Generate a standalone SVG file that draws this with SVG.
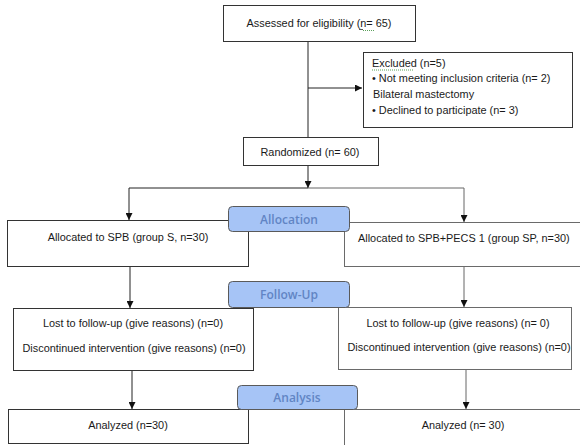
<svg xmlns="http://www.w3.org/2000/svg" width="580" height="445" viewBox="0 0 580 445">
<style>
.box{fill:#fff;stroke:#333;stroke-width:1}
.boxr{fill:#fff;stroke:#6a6a6a;stroke-width:1}
.lbl{fill:#a6c4f6;stroke:#5a5a5a;stroke-width:1}
.t{font-family:"Liberation Sans",Arial,sans-serif;font-size:10.9px;fill:#1a1a1a}
.lt{font-family:"Open Sans","Liberation Sans",sans-serif;font-size:12px;font-weight:600;fill:#6184c4;text-anchor:middle}
.c{stroke:#222;stroke-width:1;fill:none}
.cr{stroke:#666;stroke-width:1;fill:none}
.sp{stroke:#5aa05a;stroke-width:1;stroke-dasharray:1 1;fill:none}
</style>
<defs>
<marker id="ah" viewBox="0 0 8 8" refX="8" refY="4" markerWidth="7" markerHeight="7" markerUnits="userSpaceOnUse" orient="auto">
<path d="M0,0 L8,4 L0,8 z" fill="#111"/>
</marker>
</defs>
<g id="connectors">
<line class="c" x1="308" y1="41" x2="308" y2="137"/>
<line class="c" x1="308" y1="88" x2="362" y2="88" marker-end="url(#ah)"/>
<line class="c" x1="308" y1="166" x2="308" y2="188" marker-end="url(#ah)"/>
<line class="c" x1="129" y1="188" x2="308" y2="188"/>
<line class="cr" x1="308" y1="188" x2="464" y2="188"/>
<line class="c" x1="129" y1="188" x2="129" y2="220" marker-end="url(#ah)"/>
<line class="cr" x1="464" y1="188" x2="464" y2="222" marker-end="url(#ah)"/>
<line class="c" x1="130" y1="267" x2="130" y2="308" marker-end="url(#ah)"/>
<line class="cr" x1="464" y1="266" x2="464" y2="307" marker-end="url(#ah)"/>
<line class="c" x1="132" y1="370" x2="132" y2="409" marker-end="url(#ah)"/>
<line class="cr" x1="466" y1="369" x2="466" y2="409" marker-end="url(#ah)"/>
</g>
<g id="assessed">
<rect class="box" x="223.5" y="5.5" width="192" height="36"/>
<text class="t" x="319" y="27" text-anchor="middle">Assessed for eligibility (n= 65)</text>
<line x1="359" y1="29.5" x2="363" y2="29.5" stroke="#333" stroke-width="0.8"/>
<line class="sp" x1="363" y1="30.5" x2="375" y2="30.5"/>
</g>
<g id="excluded">
<rect class="box" x="363.5" y="52.5" width="209" height="75"/>
<text class="t" x="372" y="67">Excluded  (n=5)</text>
<line class="sp" x1="372" y1="70" x2="414" y2="70"/>
<text class="t" x="372" y="82">•  Not meeting inclusion criteria (n= 2)</text>
<text class="t" x="373" y="98">Bilateral mastectomy</text>
<text class="t" x="372" y="114">•  Declined to participate (n= 3)</text>
</g>
<g id="randomized">
<rect class="box" x="243.5" y="137.5" width="135" height="28"/>
<text class="t" x="310" y="156" text-anchor="middle">Randomized (n= 60)</text>
</g>
<g id="alloc-left">
<rect class="box" x="7.5" y="220.5" width="241" height="46"/>
<text class="t" x="128" y="241" text-anchor="middle">Allocated to SPB (group S, n=30)</text>
</g>
<g id="alloc-right">
<rect class="boxr" x="344.5" y="222.5" width="260" height="44"/>
<text class="t" x="358" y="242">Allocated to SPB+PECS 1 (group SP, n=30)</text>
</g>
<g id="label-allocation">
<rect class="lbl" x="228.5" y="206.5" width="121" height="25" rx="4"/>
<text class="lt" x="289" y="224">Allocation</text>
</g>
<g id="follow-left">
<rect class="box" x="13.5" y="308.5" width="240" height="62"/>
<text class="t" x="133" y="327" text-anchor="middle">Lost to follow-up (give reasons) (n=0)</text>
<text class="t" x="134" y="352" text-anchor="middle">Discontinued intervention (give reasons) (n=0)</text>
</g>
<g id="follow-right">
<rect class="boxr" x="338.5" y="307.5" width="233" height="62"/>
<text class="t" x="458" y="327" text-anchor="middle">Lost to follow-up (give reasons) (n= 0)</text>
<text class="t" x="459" y="351" text-anchor="middle">Discontinued intervention (give reasons) (n=0)</text>
</g>
<g id="label-followup">
<rect class="lbl" x="228.5" y="281.5" width="121" height="26" rx="4"/>
<text class="lt" x="289" y="299">Follow-Up</text>
</g>
<g id="analyzed-left">
<rect class="box" x="8.5" y="409.5" width="240" height="34"/>
<text class="t" x="128" y="429" text-anchor="middle">Analyzed (n=30)</text>
</g>
<g id="analyzed-right">
<rect class="boxr" x="344.5" y="409.5" width="260" height="60"/>
<text class="t" x="463" y="429" text-anchor="middle">Analyzed (n= 30)</text>
</g>
<g id="label-analysis">
<rect class="lbl" x="237.5" y="385.5" width="120" height="24" rx="4"/>
<text class="lt" x="297" y="402">Analysis</text>
</g>
</svg>
